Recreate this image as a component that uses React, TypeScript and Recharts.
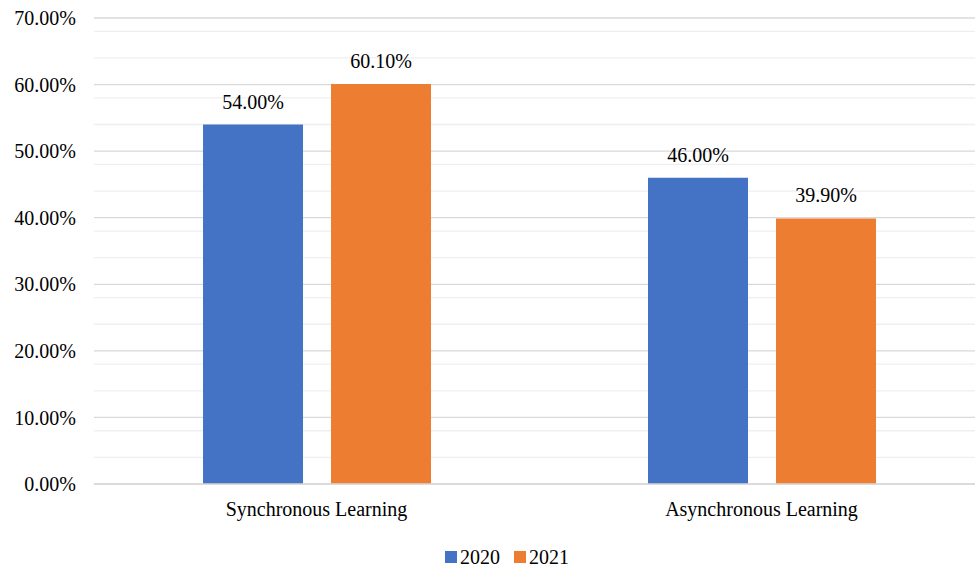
import React from "react";
import { BarChart, Bar, XAxis, YAxis, CartesianGrid, LabelList, Legend } from "recharts";

const categories = ["Synchronous Learning", "Asynchronous Learning"];
const series2020 = [0.54, 0.46];
const series2021 = [0.601, 0.399];
const majorTicks = [0, 0.1, 0.2, 0.3, 0.4, 0.5, 0.6, 0.7];
const minorTicks = [0.02, 0.04, 0.06, 0.08, 0.12, 0.14, 0.16, 0.18, 0.22, 0.24, 0.26, 0.28, 0.32, 0.34, 0.36, 0.38, 0.42, 0.44, 0.46, 0.48, 0.52, 0.54, 0.56, 0.58, 0.62, 0.64, 0.66, 0.68];
const seriesNames = ["2020", "2021"];
const colors = ["#4472C4", "#ED7D31"];

const data = categories.map((c, i) => ({ name: c, y2020: series2020[i], y2021: series2021[i] }));
const FONT = "Times New Roman, Liberation Serif, DejaVu Serif, serif";
const pct = (v: number) => (v * 100).toFixed(2) + "%";

const LegendContent = () => (
  <div style={{ display: "flex", justifyContent: "center", alignItems: "center", fontFamily: FONT, fontSize: 20, color: "#000", height: 24 }}>
    {seriesNames.map((n, i) => (
      <span key={n} style={{ display: "inline-flex", alignItems: "center", marginRight: i === 0 ? 14 : 0 }}>
        <span style={{ display: "inline-block", width: 12, height: 12, background: colors[i], marginRight: 3 }} />
        {n}
      </span>
    ))}
  </div>
);

export default function App() {
  return (
    <div style={{ position: "absolute", left: 0, top: 0, width: 975, height: 570, overflow: "hidden", background: "#fff", fontFamily: FONT }}>
      <BarChart width={990} height={570} data={data} margin={{ top: 18, right: 6, left: 0, bottom: 32 }} barSize={100} barGap={28} style={{ fontFamily: FONT }}>
        <CartesianGrid vertical={false} horizontalValues={minorTicks} stroke="#efefef" strokeWidth={1.3} />
        <CartesianGrid vertical={false} horizontalValues={majorTicks} stroke="#d9d9d9" strokeWidth={1.3} />
        <XAxis dataKey="name" axisLine={{ stroke: "#d9d9d9", strokeWidth: 1.3 }} tickLine={false} tick={{ fontFamily: FONT, fontSize: 20, fill: "#000" }} tickMargin={12} />
        <YAxis width={94} domain={[0, 0.7]} ticks={majorTicks} tickFormatter={pct} axisLine={false} tickLine={false} tickSize={0} tickMargin={18} tick={{ fontFamily: FONT, fontSize: 20, fill: "#000" }} />
        <Legend verticalAlign="bottom" content={<LegendContent />} wrapperStyle={{ left: 12, width: 990, bottom: 1 }} />
        <Bar dataKey="y2020" name="2020" fill={colors[0]} isAnimationActive={false}>
          <LabelList dataKey="y2020" position="top" offset={16} formatter={(v: number) => pct(v)} style={{ fontFamily: FONT, fontSize: 20, fill: "#000" }} />
        </Bar>
        <Bar dataKey="y2021" name="2021" fill={colors[1]} isAnimationActive={false}>
          <LabelList dataKey="y2021" position="top" offset={16} formatter={(v: number) => pct(v)} style={{ fontFamily: FONT, fontSize: 20, fill: "#000" }} />
        </Bar>
      </BarChart>
    </div>
  );
}
